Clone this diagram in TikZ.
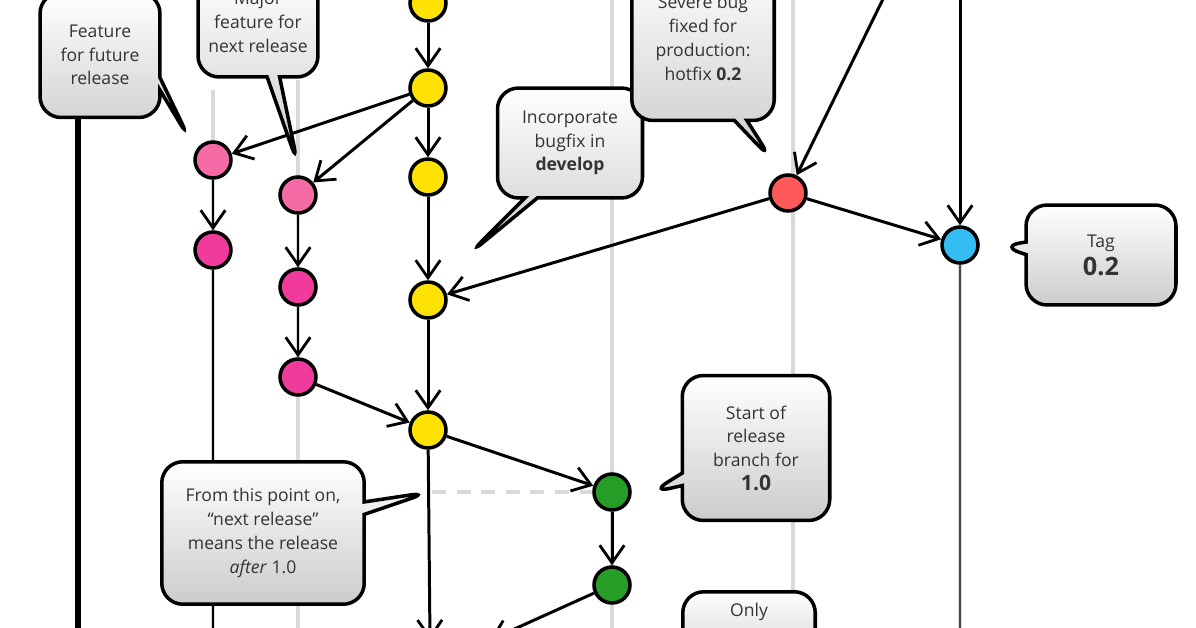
\documentclass[tikz,border=0pt]{standalone}
\usepackage{fontspec}
\setmainfont{Open Sans}
\usetikzlibrary{arrows.meta,shapes.callouts,shadows}
\begin{document}
\begin{tikzpicture}[x=0.02cm,y=-0.02cm,
  commit/.style={circle,draw=black,line width=2pt,minimum size=0.72cm,inner sep=0},
  yel/.style={commit,fill=yellow!85!orange},
  pnk/.style={commit,fill=magenta!70!pink},
  grn/.style={commit,fill=green!55!black!85},
  red/.style={commit,fill=red!65},
  cyn/.style={commit,fill=cyan!80},
  arr/.style={-{Straight Barb[length=10pt,width=14pt,line width=1.6pt]},line width=1.7pt},
  gline/.style={gray!30,line width=2.5pt},
  bline/.style={black,line width=1.5pt},
  box/.style={rectangle callout,draw=black,line width=2pt,rounded corners=12pt,
    top color=white,bottom color=gray!40,align=center,
    font=\fontsize{10}{13.5}\selectfont,text=black!80,inner sep=4pt},
]
\clip (0,0) rectangle (1196,628);
\useasboundingbox (0,0) rectangle (1196,628);
\fill[white] (0,0) rectangle (1196,628);
% background lanes
\draw[gline] (213,90) -- (213,640);
\draw[gline] (298,80) -- (298,640);
\draw[gline] (612,-10) -- (612,640);
\draw[gline] (793,-10) -- (793,640);
\draw[gline] (960,260) -- (960,640);
\draw[black,line width=3.5pt] (78,110) -- (78,640);

% commits
\node[yel] (y1) at (428,3) {};
\node[yel] (y2) at (428,88) {};
\node[yel] (y3) at (428,177) {};
\node[yel] (y4) at (428,300) {};
\node[yel] (y5) at (428,430) {};
\node[pnk,fill=magenta!45!pink] (p1) at (213,160) {};
\node[pnk] (p2) at (213,250) {};
\node[pnk,fill=magenta!45!pink] (q1) at (298,195) {};
\node[pnk] (q2) at (298,287) {};
\node[pnk] (q3) at (298,377) {};
\node[red] (r) at (788,193) {};
\node[cyn] (c) at (960,245) {};
\node[grn] (g1) at (612,492) {};
\node[grn] (g2) at (612,585) {};
\coordinate (topA) at (885,-5);
\coordinate (topB) at (960,-5);
\coordinate (botP) at (213,640);
\coordinate (botY) at (430,640);
\coordinate (botG) at (490,640);
\coordinate (dashL) at (432,492);

% lines below
\draw[bline] (p2) -- (botP);
\draw[black!70,line width=1.5pt] (c) -- (960,640);

% arrows
\draw[arr] (y1) -- (y2);
\draw[arr] (y2) -- (y3);
\draw[arr] (y3) -- (y4);
\draw[arr] (y4) -- (y5);
\draw[arr] (y2) -- (p1);
\draw[arr] (y2) -- (q1);
\draw[arr] (p1) -- (p2);
\draw[arr] (q1) -- (q2);
\draw[arr] (q2) -- (q3);
\draw[arr] (q3) -- (y5);
\draw[arr] (y5) -- (g1);
\draw[arr] (g1) -- (g2);
\draw[arr] (g2) -- (botG);
\draw[arr] (y5) -- (botY);
\draw[arr] (r) -- (y4);
\draw[arr] (r) -- (c);
\draw[arr] (topA) -- (r);
\draw[arr] (topB) -- (c);
\draw[gray!30,line width=2pt,dash pattern=on 8pt off 6pt] (dashL) -- (g1);

% callouts
\node[box,minimum width=2.4cm,minimum height=2.5cm,callout absolute pointer={(190,140)}] (b1) at (100,55) {Feature\\for future\\release};
\node[box,minimum width=2.4cm,minimum height=2.2cm,callout absolute pointer={(298,165)}] (b2) at (258,22) {Major\\feature for\\next release};
\node[box,minimum width=2.9cm,minimum height=2.2cm,callout absolute pointer={(468,255)}] (b3) at (570,143) {Incorporate\\bugfix in\\\textbf{develop}};
\node[box,minimum width=2.85cm,minimum height=3.3cm,callout absolute pointer={(772,160)}] (b4) at (703,38) {Severe bug\\fixed for\\production:\\hotfix \textbf{0.2}};
\node[box,minimum width=3cm,minimum height=2cm,callout absolute pointer={(1000,246)},font=\fontsize{10}{16}\selectfont] (b5) at (1101,255) {Tag\\{\Large\bfseries 0.2}};
\node[box,minimum width=2.95cm,minimum height=2.9cm,callout absolute pointer={(650,493)}] (b6) at (756,448) {Start of\\release\\branch for\\{\large\bfseries 1.0}};
\node[box,minimum width=4.05cm,minimum height=2.85cm,callout absolute pointer={(430,492)}] (b7) at (263,533) {From this point on,\\``next release''\\means the release\\\textit{after} 1.0};
\node[box,minimum width=2.65cm,minimum height=1.2cm,anchor=north] (b8) at (749,590) {Only\\};
\end{tikzpicture}
\end{document}
